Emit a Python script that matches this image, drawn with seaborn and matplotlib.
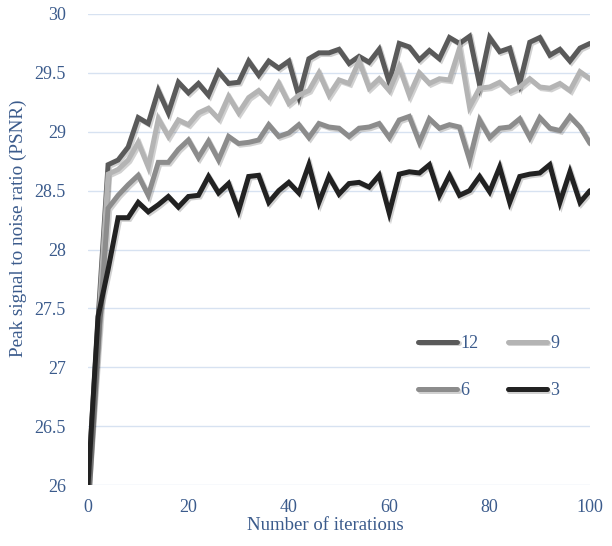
import numpy as np
import pandas as pd
import matplotlib
matplotlib.use("Agg")
import matplotlib.pyplot as plt
import matplotlib.patheffects as pe
import seaborn as sns

# ------------------------------------------------------------------
# data (PSNR every 2 iterations)
# ------------------------------------------------------------------
iterations = list(range(0, 101, 2))

psnr_12 = [26.0, 27.4, 28.72, 28.76, 28.87, 29.12, 29.07, 29.35, 29.16, 29.42,
           29.33, 29.41, 29.31, 29.51, 29.41, 29.42, 29.6, 29.48, 29.6, 29.54,
           29.6, 29.3, 29.62, 29.67, 29.67, 29.7, 29.58, 29.64, 29.59, 29.7,
           29.42, 29.75, 29.72, 29.61, 29.69, 29.62, 29.8, 29.75, 29.81, 29.4,
           29.8, 29.68, 29.71, 29.41, 29.76, 29.8, 29.65, 29.7, 29.6, 29.71,
           29.75]

psnr_9 = [26.0, 27.3, 28.64, 28.68, 28.76, 28.91, 28.7, 29.11, 28.96, 29.1,
          29.06, 29.16, 29.2, 29.11, 29.3, 29.16, 29.29, 29.35, 29.26, 29.41,
          29.24, 29.31, 29.35, 29.5, 29.31, 29.44, 29.41, 29.6, 29.37, 29.45,
          29.35, 29.55, 29.31, 29.5, 29.41, 29.45, 29.44, 29.71, 29.21, 29.37,
          29.38, 29.42, 29.34, 29.38, 29.45, 29.38, 29.37, 29.41, 29.35, 29.51,
          29.45]

psnr_6 = [26.0, 27.2, 28.35, 28.46, 28.55, 28.63, 28.46, 28.74, 28.74, 28.85,
          28.93, 28.78, 28.92, 28.76, 28.96, 28.9, 28.91, 28.93, 29.06, 28.96,
          28.99, 29.06, 28.95, 29.07, 29.04, 29.03, 28.96, 29.03, 29.04, 29.07,
          28.95, 29.1, 29.13, 28.91, 29.11, 29.03, 29.06, 29.04, 28.76, 29.1,
          28.95, 29.03, 29.04, 29.11, 28.95, 29.12, 29.03, 29.01, 29.13, 29.04,
          28.9]

psnr_3 = [26.0, 27.43, 27.83, 28.27, 28.27, 28.4, 28.32, 28.38, 28.45, 28.36,
          28.45, 28.46, 28.62, 28.48, 28.56, 28.33, 28.62, 28.63, 28.4, 28.5,
          28.57, 28.48, 28.72, 28.4, 28.62, 28.47, 28.56, 28.57, 28.53, 28.63,
          28.31, 28.64, 28.66, 28.65, 28.72, 28.46, 28.63, 28.46, 28.5, 28.62,
          28.49, 28.7, 28.4, 28.62, 28.64, 28.65, 28.72, 28.4, 28.66, 28.4,
          28.5]

series_names = ["12", "9", "6", "3"]
series_colors = ["#5a5a5a", "#b4b4b4", "#8c8c8c", "#222222"]
y_ticks = [26, 26.5, 27, 27.5, 28, 28.5, 29, 29.5, 30]
x_ticks = [0, 20, 40, 60, 80, 100]

df = pd.DataFrame({
    "iteration": iterations * 4,
    "psnr": psnr_12 + psnr_9 + psnr_6 + psnr_3,
    "series": sum([[n] * len(iterations) for n in series_names], []),
})

# ------------------------------------------------------------------
# plot
# ------------------------------------------------------------------
sns.set_style("white")
plt.rcParams["font.family"] = ["Liberation Serif", "DejaVu Serif"]
text_color = "#3b5b8c"

fig = plt.figure(figsize=(6.12, 5.46), dpi=100)
ax = fig.add_axes([88 / 612, 1 - 485 / 546, 502 / 612, 471 / 546])

sns.lineplot(data=df, x="iteration", y="psnr", hue="series",
             hue_order=series_names, palette=series_colors,
             linewidth=3.6, ax=ax, legend=True)

for line in ax.get_lines():
    line.set_solid_joinstyle("miter")
    line.set_path_effects([
        pe.SimpleLineShadow(offset=(1.2, -1.2), shadow_color="#000000", alpha=0.18),
        pe.Normal(),
    ])

ax.set_xlim(0, 100)
ax.set_ylim(26, 30)
ax.set_xticks(x_ticks)
ax.set_yticks(y_ticks)
ax.set_yticklabels([f"{v:g}" for v in y_ticks])
ax.yaxis.grid(True, color="#d7e2f1", linewidth=1)
ax.xaxis.grid(False)
for s in ax.spines.values():
    s.set_visible(False)
ax.tick_params(axis="both", length=0, colors=text_color, labelsize=13)
ax.tick_params(axis="y", pad=16)
ax.tick_params(axis="x", pad=10)

ax.set_xlabel("Number of iterations", color=text_color, fontsize=13.5)
ax.set_ylabel("Peak signal to noise ratio (PSNR)", color=text_color, fontsize=13.8)
ax.xaxis.set_label_coords(0.472, -0.068)
ax.yaxis.set_label_coords(-0.122, 0.546)

# legend: two rows (12, 9) / (6, 3)
handles, labels = ax.get_legend_handles_labels()
order = [labels.index(n) for n in ["12", "6", "9", "3"]]
leg = ax.legend([handles[i] for i in order], [labels[i] for i in order],
                ncol=2, frameon=False, loc="upper left",
                bbox_to_anchor=(0.64, 0.338), fontsize=13,
                handlelength=2.15, handletextpad=0.2, columnspacing=1.6,
                labelspacing=1.68, borderpad=0)
for t in leg.get_texts():
    t.set_color(text_color)
for h in leg.get_lines():
    h.set_linewidth(3.6)
    h.set_solid_capstyle("round")

fig.savefig("out.png", dpi=100)
